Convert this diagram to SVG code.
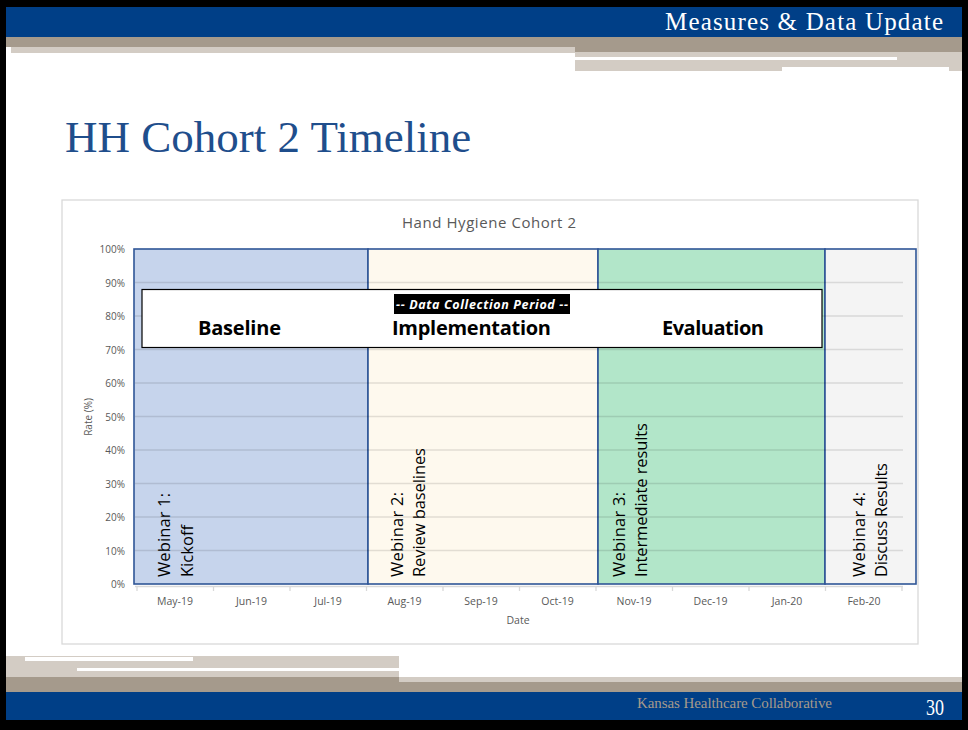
<svg xmlns="http://www.w3.org/2000/svg" width="968" height="730" viewBox="0 0 968 730">
<style>
.ax{font-family:"Open Sans","Liberation Sans",sans-serif;font-size:10px;fill:#595959}
.mo{font-family:"Open Sans","Liberation Sans",sans-serif;font-size:10.5px;fill:#595959;text-anchor:middle}
.grid{stroke:#000;stroke-opacity:0.11;stroke-width:1.3}
.tick{stroke:#d9d9d9;stroke-width:1.3}
.ph{stroke:#2f5597;stroke-width:1.6}
.web{font-family:"Open Sans","Liberation Sans",sans-serif;font-size:16.5px;fill:#000}
.lbl{font-family:"Open Sans","Liberation Sans",sans-serif;font-size:20px;font-weight:bold;fill:#000;text-anchor:middle}
</style>
<rect x="0" y="0" width="968" height="730" fill="#000"/>
<rect x="6" y="7" width="956" height="713" fill="#fff"/>
<!-- header -->
<rect x="6" y="7" width="956" height="30" fill="#003f87"/>
<rect x="6" y="37" width="956" height="10" fill="#a59a8c"/>
<rect x="11" y="47" width="564" height="6" fill="#d3ccc4"/>
<rect x="575" y="47" width="387" height="5" fill="#a59a8c"/>
<rect x="575" y="52" width="387" height="19" fill="#d3ccc4"/>
<rect x="575" y="57" width="322" height="3" fill="#fff"/>
<rect x="782" y="67" width="167" height="4" fill="#fff"/>
<text x="943" y="30" text-anchor="end" font-family="Liberation Serif,serif" font-size="25" fill="#fff" textLength="278">Measures &amp; Data Update</text>
<!-- footer -->
<rect x="6" y="656" width="393" height="21" fill="#d3ccc4"/>
<rect x="25" y="657" width="168" height="4" fill="#fff"/>
<rect x="77" y="668" width="322" height="3" fill="#fff"/>
<rect x="399" y="677" width="563" height="5" fill="#d3ccc4"/>
<rect x="6" y="677" width="393" height="15" fill="#a59a8c"/>
<rect x="399" y="682" width="563" height="10" fill="#a59a8c"/>
<rect x="6" y="692" width="956" height="28" fill="#003f87"/>
<text x="637" y="708" font-family="Liberation Serif,serif" font-size="15" fill="#a59a8c" textLength="195">Kansas Healthcare Collaborative</text>
<text x="944" y="715" text-anchor="end" font-family="Liberation Serif,serif" font-size="23" fill="#fff" textLength="18" lengthAdjust="spacingAndGlyphs">30</text>
<!-- title -->
<text x="65" y="152" font-family="Liberation Serif,serif" font-size="45" fill="#1f4e8c">HH Cohort 2 Timeline</text>
<!-- chart -->
<g id="chart">
<rect x="62" y="200" width="856" height="444" fill="#fff" stroke="#d9d9d9" stroke-width="1.3"/>
<text x="489" y="228" text-anchor="middle" font-family="Open Sans,Liberation Sans,sans-serif" font-size="15" fill="#595959" textLength="174">Hand Hygiene Cohort 2</text>
</g>
<g id="phases">
<rect id="p-baseline" class="ph" x="134" y="249" width="234" height="335" fill="#c6d4ec"/>
<rect id="p-impl" class="ph" x="368" y="249" width="230" height="335" fill="#fef9ee"/>
<rect id="p-eval" class="ph" x="598" y="249" width="227" height="335" fill="#b2e6c9"/>
<rect id="p-disc" class="ph" x="825" y="249" width="91" height="335" fill="#f4f4f4"/>
</g>
<g id="gridlines">
<line class="grid" x1="135" y1="282.5" x2="903" y2="282.5"/>
<line class="grid" x1="135" y1="316" x2="903" y2="316"/>
<line class="grid" x1="135" y1="349.5" x2="903" y2="349.5"/>
<line class="grid" x1="135" y1="383" x2="903" y2="383"/>
<line class="grid" x1="135" y1="416.5" x2="903" y2="416.5"/>
<line class="grid" x1="135" y1="450" x2="903" y2="450"/>
<line class="grid" x1="135" y1="483.5" x2="903" y2="483.5"/>
<line class="grid" x1="135" y1="517" x2="903" y2="517"/>
<line class="grid" x1="135" y1="550.5" x2="903" y2="550.5"/>
</g>
<g id="axes">
<line class="tick" x1="135" y1="586.5" x2="903" y2="586.5"/>
<line class="tick" x1="137" y1="586" x2="137" y2="591"/>
<line class="tick" x1="213.5" y1="586" x2="213.5" y2="591"/>
<line class="tick" x1="290" y1="586" x2="290" y2="591"/>
<line class="tick" x1="366.5" y1="586" x2="366.5" y2="591"/>
<line class="tick" x1="443" y1="586" x2="443" y2="591"/>
<line class="tick" x1="519.5" y1="586" x2="519.5" y2="591"/>
<line class="tick" x1="596" y1="586" x2="596" y2="591"/>
<line class="tick" x1="672.5" y1="586" x2="672.5" y2="591"/>
<line class="tick" x1="749" y1="586" x2="749" y2="591"/>
<line class="tick" x1="825.5" y1="586" x2="825.5" y2="591"/>
<line class="tick" x1="902" y1="586" x2="902" y2="591"/>
<g class="ax" text-anchor="end">
<text x="125" y="253">100%</text>
<text x="125" y="286.5">90%</text>
<text x="125" y="320">80%</text>
<text x="125" y="353.5">70%</text>
<text x="125" y="387">60%</text>
<text x="125" y="420.5">50%</text>
<text x="125" y="454">40%</text>
<text x="125" y="487.5">30%</text>
<text x="125" y="521">20%</text>
<text x="125" y="554.5">10%</text>
<text x="125" y="588">0%</text>
</g>
<text class="ax" transform="translate(92,417) rotate(-90)" text-anchor="middle">Rate (%)</text>
<text class="mo" x="175" y="605">May-19</text>
<text class="mo" x="251.5" y="605">Jun-19</text>
<text class="mo" x="328" y="605">Jul-19</text>
<text class="mo" x="404.5" y="605">Aug-19</text>
<text class="mo" x="481" y="605">Sep-19</text>
<text class="mo" x="557.5" y="605">Oct-19</text>
<text class="mo" x="634" y="605">Nov-19</text>
<text class="mo" x="710.5" y="605">Dec-19</text>
<text class="mo" x="787" y="605">Jan-20</text>
<text class="mo" x="864" y="605">Feb-20</text>
<text class="mo" x="518" y="624" font-size="11">Date</text>
</g>
<g id="period-box">
<rect x="142" y="289.5" width="680" height="58" fill="#fff" stroke="#000" stroke-width="1.2"/>
<rect x="394" y="294" width="176" height="20" fill="#000"/>
<text x="482" y="308.5" text-anchor="middle" font-family="Open Sans,Liberation Sans,sans-serif" font-size="12.5" font-weight="bold" font-style="italic" fill="#fff" textLength="172">-- Data Collection Period --</text>
<text class="lbl" x="239.5" y="335" textLength="83">Baseline</text>
<text class="lbl" x="471.5" y="335" textLength="159">Implementation</text>
<text class="lbl" x="713" y="335" textLength="102">Evaluation</text>
</g>
<g id="webinar1">
<text class="web" transform="translate(170,577) rotate(-90)" textLength="84">Webinar 1:</text>
<text class="web" transform="translate(193,577) rotate(-90)" textLength="52">Kickoff</text>
</g>
<g id="webinar2">
<text class="web" transform="translate(403,577) rotate(-90)" textLength="85">Webinar 2:</text>
<text class="web" transform="translate(425,577) rotate(-90)" textLength="129">Review baselines</text>
</g>
<g id="webinar3">
<text class="web" transform="translate(625,577) rotate(-90)" textLength="85">Webinar 3:</text>
<text class="web" transform="translate(647,577) rotate(-90)" textLength="154">Intermediate results</text>
</g>
<g id="webinar4">
<text class="web" transform="translate(865,577) rotate(-90)" textLength="85">Webinar 4:</text>
<text class="web" transform="translate(887,577) rotate(-90)" textLength="114">Discuss Results</text>
</g>
</svg>
